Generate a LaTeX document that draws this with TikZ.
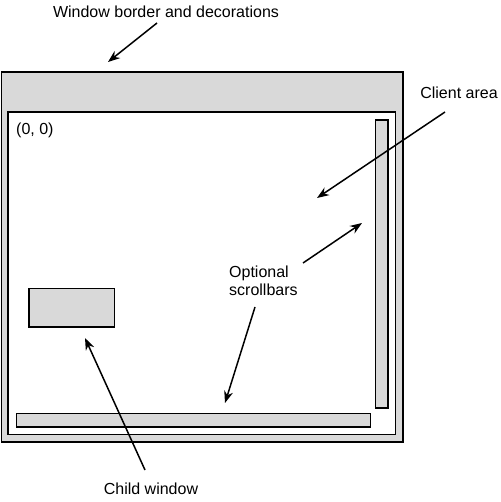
\documentclass[tikz,border=0pt]{standalone}
\usepackage{fontspec}
\setmainfont{Liberation Sans}
\usetikzlibrary{arrows.meta}
\definecolor{panel}{HTML}{D9D9D9}
\tikzset{
  box/.style={draw=black, line width=1.8pt},
  lbl/.style={inner sep=0pt, font=\fontsize{16}{18.5}\selectfont},
  pointer/.style={line width=1.5pt, -{Stealth[length=12pt,width=9pt]}}
}
\begin{document}
\begin{tikzpicture}[x=1pt,y=-1pt]
\useasboundingbox (0,0) rectangle (500,502);
% window frame
\draw[box, fill=panel] (1.5,72) rectangle (403,442);
\draw[box, fill=white] (8,112) rectangle (395.5,434.5);
% scrollbars
\draw[box, fill=panel] (375.5,120) rectangle (388,408);
\draw[box, fill=panel] (16.5,413.5) rectangle (370.5,427);
% child window
\draw[box, fill=panel] (29,288.5) rectangle (114.5,327);
% labels
\node[lbl] (wb) at (166,12) {Window border and decorations};
\node[lbl, anchor=west] (origin) at (16,130) {(0, 0)};
\node[lbl] (ca) at (459,93) {Client area};
\node[lbl, align=left, anchor=west] (os) at (229,281) {Optional\\scrollbars};
\node[lbl] (cw) at (151,489) {Child window};
% arrow tips
\coordinate (wbT) at (108,62);
\coordinate (caT) at (317,198);
\coordinate (vsT) at (362,223);
\coordinate (hsT) at (225,403);
\coordinate (cwT) at (85,338);
\coordinate (wbS) at (157,23);
\coordinate (caS) at (445,112);
\coordinate (vsS) at (303,263);
\coordinate (hsS) at (255,307);
\coordinate (cwS) at (145,470);
\draw[pointer] (wbS) -- (wbT);
\draw[pointer] (caS) -- (caT);
\draw[pointer] (vsS) -- (vsT);
\draw[pointer] (hsS) -- (hsT);
\draw[pointer] (cwS) -- (cwT);
\end{tikzpicture}
\end{document}
